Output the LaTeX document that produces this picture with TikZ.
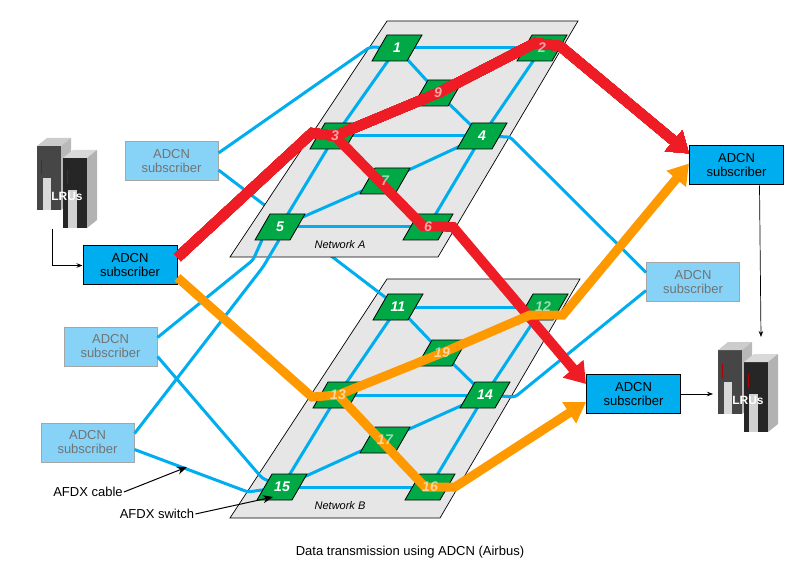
\documentclass[tikz,border=0pt]{standalone}
\usepackage{fontspec}
\setmainfont{Liberation Sans}
\usetikzlibrary{calc,arrows.meta}
\definecolor{cab}{RGB}{0,174,239}
\definecolor{actf}{RGB}{0,174,239}
\definecolor{fadf}{RGB}{135,211,248}
\definecolor{swg}{RGB}{0,168,70}
\definecolor{plane}{RGB}{230,230,230}
\definecolor{rd}{RGB}{238,28,37}
\definecolor{org}{RGB}{255,153,0}
\tikzset{
  pt/.style={inner sep=0pt,minimum size=0pt},
  act/.style={draw=black,line width=1pt,fill=actf,minimum width=94pt,minimum height=39pt,align=center,font=\fontsize{13}{14}\selectfont,inner sep=0pt},
  fad/.style={draw=gray!70,line width=1pt,fill=fadf,text=gray!90!black,minimum width=93pt,minimum height=39pt,align=center,font=\fontsize{13}{14}\selectfont,inner sep=0pt},
  cable/.style={draw=cab,line width=3pt,rounded corners=3pt},
  swf/.style={fill=swg,draw=black,line width=0.8pt},
  num/.style={text=white,font=\fontsize{14}{14}\bfseries\itshape\selectfont},
  numx/.style={text=white,text opacity=0.6,font=\fontsize{14}{14}\bfseries\itshape\selectfont},
  pln/.style={fill=plane,draw=black,line width=0.7pt},
  redp/.style={draw=rd,line width=10pt},
  orp/.style={draw=org,line width=9pt},
  lbl/.style={font=\fontsize{13}{14}\selectfont,inner sep=1pt},
  lru/.pic={
    \fill[gray!55!black] (0,8) rectangle (24,72);
    \fill[gray!40] (0,8) -- (10,0) -- (34,0) -- (24,8) -- cycle;
    \fill[gray!55] (24,8) -- (34,0) -- (34,64) -- (24,72) -- cycle;
    \fill[gray!30] (6,40) rectangle (14,72);
    \fill[black!85] (26,20) rectangle (50,90);
    \fill[gray!30] (26,20) -- (36,12) -- (60,12) -- (50,20) -- cycle;
    \fill[gray!60] (50,20) -- (60,12) -- (60,82) -- (50,90) -- cycle;
    \fill[gray!35] (31,52) rectangle (40,90);
    \fill[red!70!black] (4,22) rectangle (5,36);
    \fill[red!70!black] (30,32) rectangle (31,46);
    \node[text=white,font=\fontsize{12}{12}\bfseries\selectfont] at (30,58) {LRUs};
  }
}
\newcommand{\myswitchshape}[1]{\draw[swf] (#1) ++(-10,-13) -- ++(35,0) -- ++(-15,26) -- ++(-35,0) -- cycle;}
\begin{document}
\begin{tikzpicture}[x=1pt,y=-1pt]
\useasboundingbox (0,0) rectangle (809,572);
% switch positions
\foreach \n/\x/\y in {s1/397/48,s2/542/48,s9/438/93,s3/335/136,s4/482/136,s7/385/181,s5/280/227,s6/428/227,
  s11/398/307,s12/543/307,s19/442/353,s13/338/395,s14/485/395,s17/385/440,s15/282/487,s16/430/487}
  \node[pt] (\n) at (\x,\y) {};
% boxes
\node[fad] (F1) at (171.5,161) {ADCN\\subscriber};
\node[act] (A1) at (130,265.5) {ADCN\\subscriber};
\node[fad] (F2) at (110.5,346.5) {ADCN\\subscriber};
\node[fad] (F3) at (87.5,442.5) {ADCN\\subscriber};
\node[act] (A2) at (736.5,165.5) {ADCN\\subscriber};
\node[fad] (F4) at (693,282.5) {ADCN\\subscriber};
\node[act] (A3) at (633.5,394) {ADCN\\subscriber};
% LRUs
\pic at (37,138) {lru};
\pic at (718,342) {lru};
\coordinate (lruL) at (52,229);
\coordinate (lruRt) at (761,337);
\coordinate (lruRl) at (713,394);
% plane B
\draw[pln] (387,279) -- (580,279) -- (440,518) -- (230,518) -- cycle;
\node[font=\fontsize{11}{11}\itshape\selectfont] (nb) at (340,506) {Network B};
% cable behind plane A
\draw[cable] ($(F1.east)+(0,9)$) -- (s11);
% plane A
\draw[pln] (387,21) -- (578,21) -- (438,257) -- (230,257) -- cycle;
\node[font=\fontsize{11}{11}\itshape\selectfont] (na) at (340,245) {Network A};
% internal links
\foreach \a/\b in {s1/s2,s1/s3,s1/s9,s9/s4,s2/s4,s3/s4,s3/s5,s4/s7,s7/s5,s4/s6,s5/s6,
  s11/s12,s11/s13,s11/s19,s19/s14,s12/s14,s13/s14,s13/s15,s14/s17,s17/s15,s14/s16,s15/s16}
  \draw[cable,rounded corners=0pt] (\a) -- (\b);
% external cables
\draw[cable] ($(F1.east)+(0,-8)$) -- (370,47) -- (s1);
\draw[cable] ($(s5)+(-18,13)$) -- (253,260) -- ($(F2.east)+(0,-9)$);
\draw[cable] ($(s5)+(-1,13)$) -- (263,267) -- ($(F3.east)+(0,-9)$);
\draw[cable] ($(F2.east)+(0,10)$) -- (262,478) -- (s15);
\draw[cable] ($(F3.east)+(0,7)$) -- (248,492) -- (s15);
\draw[cable] (s4) -- (510,137) -- ($(F4.west)+(0,-10)$);
\draw[cable] (s14) -- (515,397) -- ($(F4.west)+(0,8)$);
% switches
\foreach \n in {s1,s2,s9,s3,s4,s7,s5,s6,s11,s12,s19,s13,s14,s17,s15,s16} \myswitchshape{\n}
% thick paths
\draw[redp,-{Triangle[length=20pt,width=26pt]}] ($(A1.east)+(0,-8)$) -- (312,133) -- (s3) -- (s9) -- (535,43) -- (560,46) -- ($(A2.west)+(0,-12)$);
\draw[redp,-{Triangle[length=20pt,width=26pt]}] (s3) -- (423,226) -- (453,227) -- ($(A3.west)+(0,-10)$);
\draw[orp,-{Triangle[length=20pt,width=24pt]}] ($(A1.east)+(0,12)$) -- (312,397) -- (s13) -- (s19) -- (530,315) -- (563,315) -- ($(A2.west)+(0,-2)$);
\draw[orp,-{Triangle[length=20pt,width=24pt]}] (s13) -- (425,487) -- (455,487) -- ($(A3.west)+(0,8)$);
% numbers
\foreach \n/\t in {s1/1,s4/4,s5/5,s11/11,s14/14,s15/15} \node[num] at (\n) {\t};
\foreach \n/\t in {s2/2,s9/9,s3/3,s7/7,s6/6,s12/12,s19/19,s13/13,s17/17,s16/16} \node[numx] at (\n) {\t};
% LRU arrows
\draw[-{Stealth[length=6pt]},line width=0.7pt] (lruL) |- (A1.west);
\draw[-{Stealth[length=6pt]},line width=0.7pt] ($(A2.south)+(23,0)$) -- (lruRt);
\draw[-{Stealth[length=6pt]},line width=0.7pt] (A3.east) -- (lruRl);
% labels
\node[lbl] (lc) at (88,492) {AFDX cable};
\node[lbl] (ls) at (157,514) {AFDX switch};
\coordinate (cabpt) at (187,467);
\coordinate (swpt) at (273,497);
\draw[-{Stealth[length=10pt,width=8pt]},line width=1pt] (lc.east) -- (cabpt);
\draw[-{Stealth[length=10pt,width=8pt]},line width=1pt] (ls.east) -- (swpt);
\node[lbl] (cap) at (410,552) {Data transmission using ADCN (Airbus)};
\end{tikzpicture}
\end{document}
